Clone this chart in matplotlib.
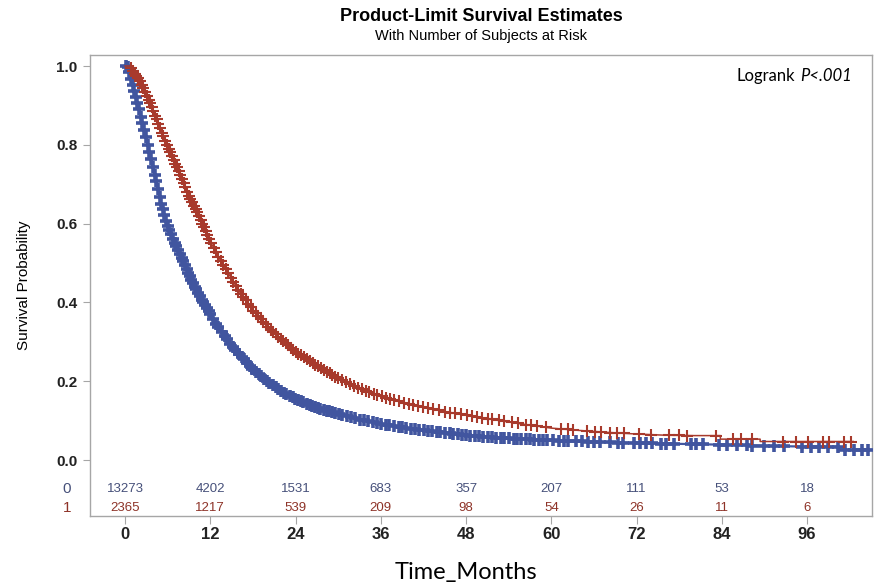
import numpy as np
import matplotlib
matplotlib.use("Agg")
import matplotlib.pyplot as plt
from matplotlib.transforms import blended_transform_factory

# Kaplan-Meier curves (months, survival)
time_0 = [0, 0.3, 1, 2, 3, 4, 5, 6, 7, 8, 9, 10, 11, 12, 13, 14, 15, 16, 18, 20,
          22, 24, 27, 30, 33, 36, 39, 42, 45, 48, 52, 56, 60, 66, 72, 78, 84, 90,
          96, 100.5, 100.5, 105]
surv_0 = [1.0, 1.0, 0.955, 0.89, 0.815, 0.735, 0.655, 0.595, 0.55, 0.51, 0.47,
          0.435, 0.40, 0.37, 0.34, 0.315, 0.29, 0.27, 0.23, 0.20, 0.175, 0.155,
          0.133, 0.117, 0.103, 0.092, 0.083, 0.076, 0.069, 0.063, 0.057, 0.053,
          0.050, 0.046, 0.043, 0.041, 0.039, 0.036, 0.034, 0.034, 0.026, 0.026]

time_1 = [0, 0.8, 1, 2, 3, 4, 5, 6, 7, 8, 9, 10, 11, 12, 13, 14, 15, 16, 18, 20,
          22, 24, 27, 30, 33, 36, 39, 42, 45, 48, 52, 56, 60, 64, 68, 72, 76, 80,
          83.8, 83.8, 89.4, 89.4, 102.5]
surv_1 = [1.0, 1.0, 0.99, 0.965, 0.925, 0.885, 0.84, 0.795, 0.755, 0.715, 0.67,
          0.635, 0.595, 0.555, 0.52, 0.49, 0.46, 0.43, 0.38, 0.34, 0.305, 0.275,
          0.24, 0.207, 0.182, 0.162, 0.146, 0.134, 0.123, 0.114, 0.102, 0.091,
          0.081, 0.075, 0.070, 0.066, 0.063, 0.062, 0.062, 0.053, 0.053, 0.047,
          0.047]

# censoring times (months) for the "+" marks
cens_0 = [0.1, 0.35, 0.55, 0.8, 1.05, 1.3, 1.5, 1.75, 2.0, 2.25, 2.45, 2.7,
          2.95, 3.2, 3.4, 3.65, 3.9, 4.15, 4.35, 4.6, 4.85, 5.1, 5.3, 5.55, 5.8,
          6.05, 6.25, 6.5, 6.75, 7.0, 7.2, 7.45, 7.7, 7.95, 8.15, 8.4, 8.65, 8.9,
          9.1, 9.35, 9.6, 9.85, 10.05, 10.3, 10.55, 10.8, 11.0, 11.25, 11.5,
          11.75, 12.0, 12.4, 12.8, 13.1, 13.6, 14.0, 14.3, 14.8, 15.2, 15.5,
          16.0, 16.4, 16.7, 17.2, 17.6, 17.9, 18.4, 18.8, 19.1, 19.6, 20.0, 20.3,
          20.8, 21.2, 21.5, 22.0, 22.4, 22.7, 23.2, 23.6, 23.9, 24.4, 24.8, 25.1,
          25.6, 26.0, 26.3, 26.8, 27.2, 27.5, 28.0, 28.4, 28.7, 29.2, 29.6, 30.1,
          30.6, 31.3, 31.8, 32.4, 33.1, 33.6, 34.2, 34.9, 35.4, 36.0, 36.7, 37.2,
          37.8, 38.5, 39.0, 39.6, 40.3, 40.8, 41.4, 42.1, 42.6, 43.2, 43.9, 44.4,
          45.0, 45.7, 46.2, 46.8, 47.5, 48.0, 48.6, 49.3, 49.8, 50.4, 51.1, 51.6,
          52.2, 52.9, 53.4, 54.0, 54.7, 55.2, 55.8, 56.5, 57.0, 57.6, 58.3, 58.8,
          59.4, 60.2, 61.1, 61.8, 62.4, 63.5, 64.3, 65.1, 66.0, 66.8, 68.2, 69.4,
          70.1, 71.6, 72.5, 73.3, 74.2, 75.4, 76.1, 77.3, 79.6, 80.4, 81.3, 83.6,
          84.7, 86.2, 87.6, 88.3, 90.0, 91.4, 92.7, 95.3, 96.6, 97.7, 99.0,
          100.4, 101.3, 102.6, 103.8, 104.6]
cens_1 = [0.9, 1.15, 1.4, 1.6, 1.85, 2.1, 2.35, 2.55, 2.8, 3.05, 3.3, 3.5, 3.75,
          4.0, 4.25, 4.45, 4.7, 4.95, 5.2, 5.4, 5.65, 5.9, 6.15, 6.35, 6.6, 6.85,
          7.1, 7.3, 7.55, 7.8, 8.05, 8.25, 8.5, 8.75, 9.0, 9.2, 9.45, 9.7, 9.95,
          10.15, 10.4, 10.65, 10.9, 11.1, 11.35, 11.6, 11.85, 12.1, 12.45, 12.8,
          13.15, 13.5, 13.85, 14.2, 14.55, 14.9, 15.25, 15.6, 15.95, 16.3, 16.65,
          17.0, 17.35, 17.7, 18.05, 18.4, 18.75, 19.1, 19.45, 19.8, 20.15, 20.5,
          20.85, 21.2, 21.55, 21.9, 22.25, 22.6, 22.95, 23.3, 23.65, 24.0, 24.4,
          24.8, 25.2, 25.6, 26.0, 26.4, 26.8, 27.2, 27.6, 28.0, 28.4, 28.8, 29.2,
          29.6, 30.0, 30.6, 31.1, 31.7, 32.2, 32.8, 33.3, 33.9, 34.4, 35.0, 35.5,
          36.1, 36.7, 37.3, 37.9, 38.5, 39.2, 39.9, 40.5, 41.2, 41.9, 42.6, 43.4,
          44.2, 45.0, 45.8, 46.5, 47.3, 48.1, 48.9, 49.6, 50.3, 51.1, 51.7, 52.6,
          53.3, 54.4, 55.3, 56.4, 57.2, 58.0, 59.3, 61.4, 62.3, 63.1, 65.0, 66.1,
          67.0, 68.2, 69.3, 70.2, 72.3, 74.1, 76.5, 78.0, 79.1, 83.2, 85.6, 86.7,
          88.2, 92.6, 94.5, 96.1, 98.2, 99.1, 101.2, 102.2]

# number at risk table
risk_times = [0, 12, 24, 36, 48, 60, 72, 84, 96]
risk_0 = [13273, 4202, 1531, 683, 357, 207, 111, 53, 18]
risk_1 = [2365, 1217, 539, 209, 98, 54, 26, 11, 6]

blue = "#41559f"
red = "#a83a2c"
blue_txt = "#46507a"
red_txt = "#8e3328"
frame = "#a6a6a6"

plt.rcParams["font.family"] = ["Liberation Sans", "DejaVu Sans"]
calibri_like = ["Lato", "DejaVu Sans"]

fig = plt.figure(figsize=(8.75, 5.85), dpi=100)
ax = fig.add_axes([0.1029, 0.118, 0.8937, 0.788])

# curves
ax.plot(time_0, surv_0, color=blue, lw=1.6, zorder=2)
ax.plot(cens_0, np.interp(cens_0, time_0, surv_0), ls="none", marker="+",
        ms=8, mew=2.6, color=blue, zorder=3)
ax.plot(time_1, surv_1, color=red, lw=1.1, zorder=4)
ax.plot(cens_1, np.interp(cens_1, time_1, surv_1), ls="none", marker="+",
        ms=9, mew=1.5, color=red, zorder=5)

ax.set_xlim(-4.93, 105.15)
ax.set_ylim(-0.142, 1.028)
ax.set_yticks([0.0, 0.2, 0.4, 0.6, 0.8, 1.0])
ax.set_yticklabels(["0.0", "0.2", "0.4", "0.6", "0.8", "1.0"])
ax.set_xticks(risk_times)
ax.set_xticklabels([str(t) for t in risk_times])

for s in ax.spines.values():
    s.set_color(frame)
    s.set_linewidth(1.0)
ax.tick_params(axis="y", direction="out", length=5, color=frame, pad=4,
               labelsize=11, labelcolor="#222222")
ax.tick_params(axis="x", direction="out", length=6, color=frame, pad=2,
               labelsize=12, labelcolor="#222222")
for lab in ax.get_yticklabels() + ax.get_xticklabels():
    lab.set_fontweight("bold")

# number at risk rows inside the frame
for t, n0, n1 in zip(risk_times, risk_0, risk_1):
    ax.text(t, -0.074, str(n0), ha="center", va="center", fontsize=9.5,
            color=blue_txt)
    ax.text(t, -0.122, str(n1), ha="center", va="center", fontsize=9.5,
            color=red_txt)
tr = blended_transform_factory(ax.transAxes, ax.transData)
ax.text(-0.024, -0.074, "0", transform=tr, ha="right", va="center",
        fontsize=11, color=blue_txt)
ax.text(-0.024, -0.122, "1", transform=tr, ha="right", va="center",
        fontsize=11, color=red_txt)

ax.set_ylabel("Survival Probability", fontsize=11, labelpad=18)
fig.text(0.533, 0.022, "Time_Months", ha="center", va="center", fontsize=17,
         family=calibri_like)

ax.text(0.901, 0.954, "Logrank", transform=ax.transAxes, ha="right",
        va="center", fontsize=12, family=calibri_like)
ax.text(0.974, 0.954, "P<.001", transform=ax.transAxes, ha="right",
        va="center", fontsize=12, style="italic", family=calibri_like)

fig.text(0.55, 0.972, "Product-Limit Survival Estimates", ha="center",
         va="center", fontsize=13, fontweight="bold")
fig.text(0.55, 0.938, "With Number of Subjects at Risk", ha="center",
         va="center", fontsize=10.5)

fig.savefig("out.png", dpi=100)
